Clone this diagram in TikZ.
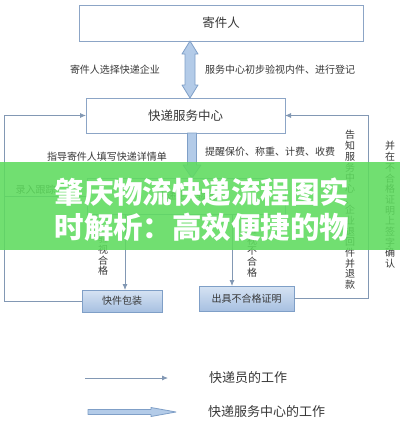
\documentclass[tikz,border=0pt]{standalone}
\usepackage{fontspec}
\setmainfont{Noto Sans CJK SC}
\usetikzlibrary{arrows.meta, calc}
\definecolor{boxline}{HTML}{8CA5C6}
\definecolor{flowline}{HTML}{8298B4}
\definecolor{fatfill}{HTML}{B3CBE8}
\definecolor{fatline}{HTML}{7F9FC7}
\definecolor{packtop}{HTML}{D6E3F3}
\definecolor{packbot}{HTML}{A7C0E1}
\definecolor{txt}{HTML}{383838}
\definecolor{banner}{HTML}{5EDB5E}

\begin{document}
\begin{tikzpicture}[
    x=1pt, y=-1pt,
    box/.style={draw=boxline, line width=0.9pt, fill=white, text=txt, inner sep=0pt,
                outer sep=0pt, font=\fontsize{12.5}{14}\selectfont},
    packbox/.style={draw=fatline, line width=0.8pt, top color=packtop, bottom color=packbot,
                    text=txt, inner sep=0pt, outer sep=0pt, font=\fontsize{10}{12}\selectfont},
    lbl/.style={text=txt, inner sep=1pt, font=\fontsize{10}{12}\selectfont},
    vlbl/.style={text=txt, inner sep=0pt, align=center, font=\fontsize{10}{10.7}\selectfont},
    legend/.style={text=txt, inner sep=0pt, font=\fontsize{13}{15}\selectfont},
    flow/.style={draw=flowline, line width=0.8pt, -{Latex[length=6pt, width=5pt]}},
    link/.style={draw=flowline, line width=0.8pt},
    fat/.style={draw=fatline, fill=fatfill, line width=0.8pt, line join=round}
]
\fill[white] (0,0) rectangle (400,421);
\useasboundingbox (0,0) rectangle (400,421);

\node[box, minimum width=284, minimum height=36] (sender) at (221,23) {寄件人};
\node[box, minimum width=199, minimum height=35] (hub) at (185.5,115.5) {快递服务中心};
\node[box, minimum width=198, minimum height=36, font=\fontsize{10}{12}\selectfont] (check) at (186,196) {快递企业验视};
\node[packbox, minimum width=80, minimum height=22] (pack) at (122,301) {快件包装};
\node[packbox, minimum width=95, minimum height=25] (cert) at (246.5,298.5) {出具不合格证明};

\node[lbl] (l1) at (115,70) {寄件人选择快递企业};
\node[lbl, anchor=west] (l2) at (204,70) {服务中心初步验视内件、进行登记};
\node[lbl] (l3) at (107,157) {指导寄件人填写快递详情单};
\node[lbl, anchor=west] (l4) at (204,152) {提醒保价、称重、计费、收费};
\node[vlbl] (v1) at (103,255) {验\\视\\合\\格};
\node[vlbl] (v2) at (252,251) {验\\视\\不\\合\\格};
\node[vlbl] (v3) at (350,210) {告\\知\\服\\务\\中\\心\\、\\企\\业\\退\\回\\件\\并\\退\\款};
\node[vlbl] (v4) at (390,205) {并\\在\\不\\合\\格\\证\\明\\上\\签\\字\\确\\认};

\coordinate (lx) at (4,0);
\coordinate (rx) at (368,0);
\coordinate (ax) at (190,0);
\coordinate (bx) at (192,0);
\coordinate (px) at (125,0);
\coordinate (cx) at (232,0);

\coordinate (a1) at (ax |- sender.south);
\coordinate (a2) at (ax |- hub.north);
\draw[fat] (a1) -- ++(8,13) -- ++(-3,0) -- ($(a2)+(5,-13)$) -- ++(3,0) -- (a2)
    -- ++(-8,-13) -- ++(3,0) -- ($(a1)+(-5,13)$) -- ++(-3,0) -- cycle;
\coordinate (b1) at (bx |- hub.south);
\coordinate (b2) at (bx |- check.north);
\draw[fat] ($(b1)+(-4.5,0)$) -- ($(b2)+(-4.5,-13)$) -- ++(-4.5,0) -- (b2)
    -- ++(9,-13) -- ++(-4.5,0) -- ($(b1)+(4.5,0)$) -- cycle;

\draw[flow] (pack.west) -- (pack.west -| lx) -- (hub.west -| lx) -- (hub.west);
\draw[link] (lx |- check.west) -- node[lbl, above, pos=.38] {录入跟踪} (check.west);
\draw[flow] (cert.east) -- (cert.east -| rx) -- (hub.east -| rx) -- (hub.east);
\draw[flow] (check.south -| px) -- (pack.north -| px);
\draw[flow] (check.south -| cx) -- (cert.north -| cx);

\coordinate (k1) at (85,378);
\coordinate (k2) at (168,378);
\draw[flow] (k1) -- (k2);
\node[legend, anchor=west] (t1) at (209,378) {快递员的工作};
\coordinate (k3) at (88,412);
\coordinate (k4) at (176,412);
\draw[fat] ($(k3)+(0,-2.5)$) -- ($(k4)+(-25,-2.5)$) -- ++(0,-2) -- (k4)
    -- ++(-25,4.5) -- ++(0,-2) -- ($(k3)+(0,2.5)$) -- cycle;
\node[legend, anchor=west] (t2) at (208,412) {快递服务中心的工作};

\fill[banner, opacity=.88] (0,162) rectangle (400,250);
\node[text=white, align=center, inner sep=0pt, font=\bfseries\fontsize{29.5}{35}\selectfont] (title) at (202,209.5) {肇庆物流快递流程图实\\时解析：高效便捷的物};
\end{tikzpicture}
\end{document}
